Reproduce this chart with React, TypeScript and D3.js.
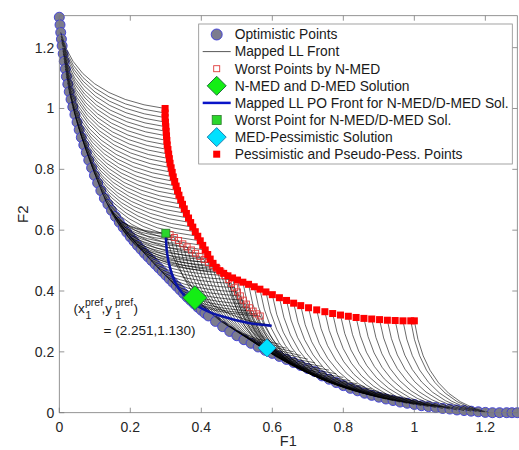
import React, { useEffect, useRef } from "react";
import * as d3 from "d3";

// optimistic points (lower level optimistic front)
const optF1 = [
  0.0, 0.002, 0.004, 0.006, 0.008, 0.011, 0.014, 0.017, 0.02, 0.024, 0.028,
  0.033, 0.038, 0.044, 0.05, 0.056, 0.062, 0.069, 0.076, 0.083, 0.091, 0.099,
  0.108, 0.117, 0.127, 0.137, 0.147, 0.158, 0.169, 0.18, 0.19, 0.2, 0.21, 0.22,
  0.23, 0.24, 0.25, 0.26, 0.27, 0.28, 0.29, 0.3, 0.31, 0.32, 0.33, 0.34, 0.35,
  0.36, 0.37, 0.38, 0.39, 0.4, 0.41, 0.42, 0.44, 0.46, 0.48, 0.5, 0.52, 0.54,
  0.56, 0.58, 0.6, 0.62, 0.64, 0.66, 0.68, 0.7, 0.72, 0.74, 0.76, 0.78, 0.8,
  0.82, 0.84, 0.86, 0.88, 0.9, 0.92, 0.94, 0.96, 0.98, 1.0, 1.02, 1.04, 1.06,
  1.08, 1.1, 1.12, 1.14, 1.16, 1.18, 1.2, 1.22, 1.24, 1.26, 1.275, 1.29,
];
const optF2 = [
  1.3, 1.275, 1.25, 1.228, 1.206, 1.18, 1.155, 1.13, 1.105, 1.08, 1.055, 1.03,
  1.005, 0.98, 0.955, 0.93, 0.905, 0.88, 0.855, 0.83, 0.805, 0.78, 0.755, 0.73,
  0.705, 0.685, 0.665, 0.645, 0.626, 0.609, 0.593, 0.578, 0.564, 0.55, 0.537,
  0.524, 0.512, 0.5, 0.488, 0.476, 0.464, 0.452, 0.44, 0.428, 0.416, 0.404,
  0.392, 0.38, 0.369, 0.358, 0.347, 0.337, 0.327, 0.318, 0.3, 0.283, 0.267,
  0.253, 0.24, 0.228, 0.216, 0.205, 0.195, 0.185, 0.175, 0.165, 0.155, 0.145,
  0.135, 0.121, 0.11, 0.099, 0.089, 0.08, 0.072, 0.064, 0.057, 0.051, 0.045,
  0.04, 0.035, 0.031, 0.027, 0.023, 0.02, 0.017, 0.014, 0.012, 0.009, 0.007,
  0.005, 0.003, 0.001, 0.0, 0.0, 0.0, 0.0, 0.0,
];

// pessimistic and pseudo-pessimistic points
const pessF1 = [
  0.298, 0.298, 0.298, 0.299, 0.3, 0.301, 0.302, 0.303, 0.304, 0.306, 0.308,
  0.31, 0.312, 0.315, 0.318, 0.321, 0.325, 0.329, 0.333, 0.337, 0.342, 0.347,
  0.352, 0.358, 0.364, 0.37, 0.376, 0.383, 0.39, 0.397, 0.404, 0.411, 0.418,
  0.425, 0.433, 0.442, 0.452, 0.463, 0.475, 0.488, 0.502, 0.517, 0.533, 0.549,
  0.565, 0.582, 0.6, 0.62, 0.64, 0.66, 0.68, 0.702, 0.725, 0.748, 0.77, 0.792,
  0.814, 0.836, 0.858, 0.88, 0.902, 0.924, 0.946, 0.968, 0.99, 1.0,
];
const pessF2 = [
  1.0, 0.985, 0.97, 0.955, 0.94, 0.925, 0.91, 0.895, 0.88, 0.865, 0.85, 0.835,
  0.82, 0.805, 0.79, 0.775, 0.76, 0.745, 0.73, 0.715, 0.7, 0.685, 0.67, 0.655,
  0.64, 0.625, 0.61, 0.595, 0.58, 0.565, 0.55, 0.535, 0.52, 0.505, 0.491,
  0.478, 0.467, 0.458, 0.45, 0.443, 0.436, 0.429, 0.422, 0.414, 0.406, 0.397,
  0.388, 0.378, 0.369, 0.36, 0.352, 0.345, 0.338, 0.332, 0.326, 0.321, 0.317,
  0.313, 0.31, 0.308, 0.306, 0.304, 0.303, 0.302, 0.302, 0.302,
];
// other end of each mapped LL front
const llEndF1 = [
  0.004, 0.005, 0.006, 0.007, 0.009, 0.01, 0.011, 0.013, 0.014, 0.016, 0.017,
  0.019, 0.02, 0.023, 0.025, 0.028, 0.031, 0.034, 0.038, 0.042, 0.046, 0.05,
  0.055, 0.06, 0.066, 0.071, 0.078, 0.084, 0.091, 0.099, 0.108, 0.117, 0.127,
  0.137, 0.147, 0.158, 0.169, 0.18, 0.7, 0.72, 0.74, 0.76, 0.78, 0.8, 0.82,
  0.84, 0.86, 0.88, 0.9, 0.92, 0.94, 0.96, 0.98, 1.0, 1.02, 1.04, 1.06, 1.08,
  1.1, 1.12, 1.14, 1.16, 1.175, 1.19, 1.2, 1.21,
];
const llEndF2 = [
  1.25, 1.238, 1.228, 1.217, 1.2, 1.19, 1.18, 1.165, 1.155, 1.14, 1.13, 1.115,
  1.105, 1.085, 1.07, 1.055, 1.04, 1.022, 1.005, 0.988, 0.97, 0.955, 0.938,
  0.918, 0.898, 0.88, 0.858, 0.838, 0.815, 0.79, 0.762, 0.735, 0.708, 0.685,
  0.665, 0.645, 0.626, 0.609, 0.145, 0.135, 0.121, 0.11, 0.099, 0.089, 0.08,
  0.072, 0.064, 0.057, 0.051, 0.045, 0.04, 0.035, 0.031, 0.027, 0.023, 0.02,
  0.017, 0.014, 0.012, 0.009, 0.007, 0.005, 0.004, 0.002, 0.001, 0.0,
];

// worst points by N-MED
const worstF1 = [
  0.3, 0.312, 0.324, 0.336, 0.348, 0.36, 0.372, 0.384, 0.396, 0.408, 0.42,
  0.432, 0.444, 0.455, 0.466, 0.476, 0.485, 0.494, 0.502, 0.51, 0.518, 0.527,
  0.536, 0.546, 0.556, 0.566,
];
const worstF2 = [
  0.59, 0.585, 0.576, 0.566, 0.555, 0.545, 0.535, 0.524, 0.514, 0.504, 0.494,
  0.484, 0.474, 0.463, 0.451, 0.438, 0.425, 0.411, 0.397, 0.384, 0.37, 0.357,
  0.345, 0.334, 0.325, 0.318,
];
const worstDownF1 = [
  0.598, 0.62, 0.64, 0.66, 0.68, 0.7, 0.72, 0.74, 0.76, 0.78, 0.8, 0.82, 0.84,
  0.86, 0.88, 0.9, 0.92, 0.94, 0.96, 0.98, 1.0, 1.02, 1.04, 1.06, 1.08, 1.1,
];
const worstDownF2 = [
  0.286, 0.225, 0.212, 0.2, 0.188, 0.176, 0.164, 0.152, 0.14, 0.128, 0.116,
  0.105, 0.095, 0.086, 0.078, 0.07, 0.063, 0.057, 0.051, 0.046, 0.041, 0.036,
  0.031, 0.026, 0.021, 0.017,
];
const worstLeftF1 = [
  0.145, 0.147, 0.152, 0.158, 0.164, 0.17, 0.176, 0.183, 0.19, 0.197, 0.204,
  0.212, 0.22, 0.228, 0.237, 0.247, 0.257, 0.268, 0.279, 0.29, 0.302, 0.314,
  0.325, 0.336, 0.345, 0.352,
];
const worstLeftF2 = [
  0.67, 0.665, 0.656, 0.645, 0.635, 0.625, 0.615, 0.604, 0.593, 0.583, 0.574,
  0.564, 0.55, 0.54, 0.528, 0.516, 0.503, 0.49, 0.477, 0.464, 0.45, 0.436,
  0.422, 0.41, 0.398, 0.39,
];

// mapped LL PO front for the N-MED/D-MED solution
const solFrontF1 = [
  0.3, 0.301, 0.303, 0.308, 0.316, 0.328, 0.345, 0.368, 0.395, 0.425, 0.46,
  0.495, 0.53, 0.565, 0.598,
];
const solFrontF2 = [
  0.59, 0.56, 0.53, 0.495, 0.46, 0.425, 0.395, 0.368, 0.347, 0.33, 0.316,
  0.305, 0.296, 0.29, 0.286,
];

const nmedSolution = [0.382, 0.378];
const worstSolution = [0.3, 0.59];
const medPessSolution = [0.585, 0.213];

const xTicks = [0, 0.2, 0.4, 0.6, 0.8, 1, 1.2];
const yTicks = [0, 0.2, 0.4, 0.6, 0.8, 1, 1.2];

const legendLabels = [
  "Optimistic Points",
  "Mapped LL Front",
  "Worst Points by N-MED",
  "N-MED and D-MED Solution",
  "Mapped LL PO Front for N-MED/D-MED Sol.",
  "Worst Point for N-MED/D-MED Sol.",
  "MED-Pessimistic Solution",
  "Pessimistic and Pseudo-Pess. Points",
];

const FONT = "'Liberation Sans', Arial, Helvetica, sans-serif";

export default function App() {
  const svgRef = useRef(null);

  useEffect(() => {
    const width = 519;
    const height = 450;
    const left = 59.3;
    const right = 517.3;
    const top = 15.7;
    const bottom = 412.7;

    const svg = d3.select(svgRef.current);
    svg.selectAll("*").remove();
    svg.attr("width", width).attr("height", height).style("font-family", FONT);

    const x = d3.scaleLinear().domain([0, 1.29]).range([left, right]);
    const y = d3.scaleLinear().domain([0, 1.305]).range([bottom, top]);

    svg.append("rect").attr("width", width).attr("height", height).attr("fill", "white");

    // optimistic points
    svg
      .append("g")
      .selectAll("circle")
      .data(optF1.map((d, i) => [d, optF2[i]]))
      .join("circle")
      .attr("cx", (d) => x(d[0]))
      .attr("cy", (d) => y(d[1]))
      .attr("r", 5)
      .attr("fill", "#7c7c8e")
      .attr("stroke", "#3a3ad8")
      .attr("stroke-width", 0.9);

    // mapped LL fronts, drawn as bent arcs between their two ends
    const llPath = (a, b) => {
      const cx0 = Math.min(a[0], b[0]);
      const cy0 = Math.min(a[1], b[1]);
      const bend = 0.3;
      const cx = cx0 + bend * ((a[0] + b[0]) / 2 - cx0);
      const cy = cy0 + bend * ((a[1] + b[1]) / 2 - cy0);
      const p = d3.path();
      p.moveTo(x(a[0]), y(a[1]));
      p.quadraticCurveTo(x(cx), y(cy), x(b[0]), y(b[1]));
      return p.toString();
    };
    const llPairs = [
      ...pessF1.map((d, i) => [[d, pessF2[i]], [llEndF1[i], llEndF2[i]]]),
      ...worstF1.map((d, i) => [[d, worstF2[i]], [worstDownF1[i], worstDownF2[i]]]),
      ...worstF1.map((d, i) => [[d, worstF2[i]], [worstLeftF1[i], worstLeftF2[i]]]),
    ];
    svg
      .append("g")
      .selectAll("path")
      .data(llPairs)
      .join("path")
      .attr("d", (d) => llPath(d[0], d[1]))
      .attr("fill", "none")
      .attr("stroke", "#000")
      .attr("stroke-opacity", 0.9)
      .attr("stroke-width", 0.65);

    // worst points by N-MED
    svg
      .append("g")
      .selectAll("rect")
      .data(worstF1.map((d, i) => [d, worstF2[i]]))
      .join("rect")
      .attr("x", (d) => x(d[0]) - 3)
      .attr("y", (d) => y(d[1]) - 3)
      .attr("width", 6)
      .attr("height", 6)
      .attr("fill", "none")
      .attr("stroke", "#e03a3a")
      .attr("stroke-width", 0.9);

    // blue LL PO front of the solution
    const line = d3
      .line()
      .x((d) => x(d[0]))
      .y((d) => y(d[1]))
      .curve(d3.curveCatmullRom.alpha(0.5));
    svg
      .append("path")
      .attr("d", line(solFrontF1.map((d, i) => [d, solFrontF2[i]])))
      .attr("fill", "none")
      .attr("stroke", "#0a14a8")
      .attr("stroke-width", 2.5);

    const diamond = (cx, cy, r) => `M${cx},${cy - r}L${cx + r},${cy}L${cx},${cy + r}L${cx - r},${cy}Z`;

    // N-MED and D-MED solution
    svg
      .append("path")
      .attr("d", diamond(x(nmedSolution[0]), y(nmedSolution[1]), 12))
      .attr("fill", "#14ee14")
      .attr("stroke", "#1f6f3f")
      .attr("stroke-width", 1);

    // worst point for the solution
    svg
      .append("rect")
      .attr("x", x(worstSolution[0]) - 4)
      .attr("y", y(worstSolution[1]) - 4)
      .attr("width", 8)
      .attr("height", 8)
      .attr("fill", "#2bd62b")
      .attr("stroke", "#2a7a2a")
      .attr("stroke-width", 0.8);

    // MED-pessimistic solution
    svg
      .append("path")
      .attr("d", diamond(x(medPessSolution[0]), y(medPessSolution[1]), 9))
      .attr("fill", "#00e1ff")
      .attr("stroke", "#1e7fb0")
      .attr("stroke-width", 1);

    // pessimistic points
    svg
      .append("g")
      .selectAll("rect")
      .data(pessF1.map((d, i) => [d, pessF2[i]]))
      .join("rect")
      .attr("x", (d) => x(d[0]) - 3.5)
      .attr("y", (d) => y(d[1]) - 3.5)
      .attr("width", 7)
      .attr("height", 7)
      .attr("fill", "#ff0000");

    // axes box with inward ticks
    const axisColor = "#7a7a7a";
    const axes = svg.append("g").attr("stroke", axisColor).attr("stroke-width", 0.8);
    axes
      .append("rect")
      .attr("x", left)
      .attr("y", top)
      .attr("width", right - left)
      .attr("height", bottom - top)
      .attr("fill", "none");
    xTicks.forEach((t) => {
      axes.append("line").attr("x1", x(t)).attr("x2", x(t)).attr("y1", bottom).attr("y2", bottom - 5);
      axes.append("line").attr("x1", x(t)).attr("x2", x(t)).attr("y1", top).attr("y2", top + 5);
    });
    yTicks.forEach((t) => {
      axes.append("line").attr("x1", left).attr("x2", left + 5).attr("y1", y(t)).attr("y2", y(t));
      axes.append("line").attr("x1", right).attr("x2", right - 5).attr("y1", y(t)).attr("y2", y(t));
    });

    const fmt = (v) => String(+v.toFixed(1));
    svg
      .append("g")
      .attr("font-size", 14)
      .attr("fill", "#262626")
      .attr("text-anchor", "middle")
      .selectAll("text")
      .data(xTicks)
      .join("text")
      .attr("x", (d) => x(d))
      .attr("y", bottom + 19)
      .text(fmt);
    svg
      .append("g")
      .attr("font-size", 14)
      .attr("fill", "#262626")
      .attr("text-anchor", "end")
      .selectAll("text")
      .data(yTicks)
      .join("text")
      .attr("x", left - 5)
      .attr("y", (d) => y(d) + 5)
      .text(fmt);

    svg
      .append("text")
      .attr("x", (left + right) / 2)
      .attr("y", 446)
      .attr("text-anchor", "middle")
      .attr("font-size", 14.5)
      .attr("fill", "#262626")
      .text("F1");
    svg
      .append("text")
      .attr("transform", `translate(28,${(top + bottom) / 2}) rotate(-90)`)
      .attr("text-anchor", "middle")
      .attr("font-size", 15)
      .attr("fill", "#262626")
      .text("F2");

    // annotation
    const ax = x(0.04);
    const ay = y(0.33) + 1;
    const ann = svg.append("g").attr("fill", "#1a1a1a").attr("font-size", 13.5);
    ann.append("text").attr("x", ax).attr("y", ay).text("(x");
    ann.append("text").attr("x", ax + 11.5).attr("y", ay - 7).attr("font-size", 10.5).text("pref");
    ann.append("text").attr("x", ax + 12).attr("y", ay + 6).attr("font-size", 10.5).text("1");
    ann.append("text").attr("x", ax + 28).attr("y", ay).text(",y");
    ann.append("text").attr("x", ax + 41.5).attr("y", ay - 7).attr("font-size", 10.5).text("pref");
    ann.append("text").attr("x", ax + 42).attr("y", ay + 6).attr("font-size", 10.5).text("1");
    ann.append("text").attr("x", ax + 60).attr("y", ay).text(")");
    ann.append("text").attr("x", ax + 30).attr("y", ay + 22).text("= (2.251,1.130)");

    // legend
    const lx = 198.7;
    const ly = 24;
    const rowH = 17.1;
    const lg = svg.append("g");
    lg.append("rect")
      .attr("x", lx)
      .attr("y", ly)
      .attr("width", 313.6)
      .attr("height", 140)
      .attr("fill", "white")
      .attr("stroke", "#8c8c8c")
      .attr("stroke-width", 0.8);
    const mx = lx + 18;
    const rowY = (i) => ly + 10.5 + i * rowH;
    lg.append("circle").attr("cx", mx).attr("cy", rowY(0)).attr("r", 5.5)
      .attr("fill", "#7c7c8e").attr("stroke", "#3a3ad8").attr("stroke-width", 0.9);
    lg.append("line").attr("x1", lx + 4).attr("x2", lx + 32).attr("y1", rowY(1)).attr("y2", rowY(1))
      .attr("stroke", "#111").attr("stroke-width", 0.7);
    lg.append("rect").attr("x", mx - 3).attr("y", rowY(2) - 3).attr("width", 6).attr("height", 6)
      .attr("fill", "none").attr("stroke", "#e03a3a").attr("stroke-width", 0.9);
    lg.append("path").attr("d", diamond(mx, rowY(3), 9.5))
      .attr("fill", "#14ee14").attr("stroke", "#1f6f3f").attr("stroke-width", 1);
    lg.append("line").attr("x1", lx + 4).attr("x2", lx + 32).attr("y1", rowY(4)).attr("y2", rowY(4))
      .attr("stroke", "#0a14c8").attr("stroke-width", 2.5);
    lg.append("rect").attr("x", mx - 4.5).attr("y", rowY(5) - 4.5).attr("width", 9).attr("height", 9)
      .attr("fill", "#2bd62b").attr("stroke", "#2a7a2a").attr("stroke-width", 0.8);
    lg.append("path").attr("d", diamond(mx, rowY(6), 9.5))
      .attr("fill", "#00e1ff").attr("stroke", "#1e7fb0").attr("stroke-width", 1);
    lg.append("rect").attr("x", mx - 3.5).attr("y", rowY(7) - 3.5).attr("width", 7).attr("height", 7)
      .attr("fill", "#ff0000");
    lg.append("g")
      .attr("font-size", 13.8)
      .attr("fill", "#1a1a1a")
      .selectAll("text")
      .data(legendLabels)
      .join("text")
      .attr("x", lx + 36)
      .attr("y", (d, i) => rowY(i) + 4.8)
      .text((d) => d);
  }, []);

  return <svg ref={svgRef} style={{ position: "absolute", left: 0, top: 0 }}></svg>;
}
